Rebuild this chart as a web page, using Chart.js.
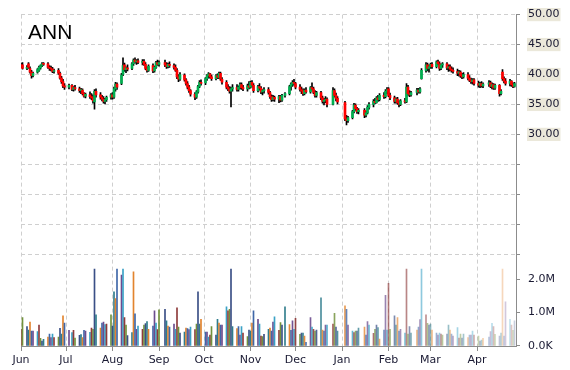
<!DOCTYPE html>
<html>
<head>
<meta charset="utf-8">
<script src="https://cdn.jsdelivr.net/npm/chart.js@4.4.1/dist/chart.umd.min.js"></script>
<style>
html,body{margin:0;padding:0;background:#fff;}
#wrap{width:570px;height:370px;}
</style>
</head>
<body>
<div id="wrap"><canvas id="c" width="570" height="370"></canvas></div>
<script>
const titleText = 'ANN';
const months = ['Jun','Jul','Aug','Sep','Oct','Nov','Dec','Jan','Feb','Mar','Apr'];
const tradingDays = [
  ['2006-06', '1 2 5 6 7 8 9 12 13 14 15 16 19 20 21 22 23 26 27 28 29 30'],
  ['2006-07', '3 5 6 7 10 11 12 13 14 17 18 19 20 21 24 25 26 27 28 31'],
  ['2006-08', '1 2 3 4 7 8 9 10 11 14 15 16 17 18 21 22 23 24 25 28 29 30 31'],
  ['2006-09', '1 5 6 7 8 11 12 13 14 15 18 19 20 21 22 25 26 27 28 29'],
  ['2006-10', '2 3 4 5 6 9 10 11 12 13 16 17 18 19 20 23 24 25 26 27 30 31'],
  ['2006-11', '1 2 3 6 7 8 9 10 13 14 15 16 17 20 21 22 24 27 28 29 30'],
  ['2006-12', '1 4 5 6 7 8 11 12 13 14 15 18 19 20 21 22 26 27 28 29'],
  ['2007-01', '3 4 5 8 9 10 11 12 16 17 18 19 22 23 24 25 26 29 30 31'],
  ['2007-02', '1 2 5 6 7 8 9 12 13 14 15 16 20 21 22 23 26 27 28'],
  ['2007-03', '1 2 5 6 7 8 9 12 13 14 15 16 19 20 21 22 23 26 27 28 29 30'],
  ['2007-04', '2 3 4 5 9 10 11 12 13 16 17 18 19 20 23 24 25 26']
];

const open = [
  41.6,41.6,41.0,41.8,41.0,40.4,39.8,40.4,40.7,41.1,41.5,41.8,41.8,41.2,41.0,40.9,40.5,40.7,40.2,39.4,38.8,38.1,
  37.9,38.2,37.5,37.8,37.6,37.3,37.4,36.8,36.4,36.6,36.3,36.1,35.4,37.2,36.6,36.2,35.9,35.5,35.8,36.2,
  36.6,36.2,37.6,38.4,38.5,40.0,41.6,40.8,41.1,41.0,41.8,42.4,42.1,42.3,42.0,42.2,41.7,41.0,40.7,41.5,40.6,41.2,42.0,
  41.7,42.0,41.6,41.3,41.7,41.5,41.2,40.7,39.6,39.2,39.9,39.1,38.5,37.9,37.3,36.7,36.2,37.1,38.0,38.7,
  38.6,39.3,39.8,40.1,39.6,39.3,39.8,39.5,40.2,39.2,38.7,37.9,37.6,37.2,37.6,37.8,37.5,37.9,38.3,37.8,37.6,38.1,
  37.9,38.7,38.2,37.3,38.0,37.7,37.1,37.3,37.5,37.0,36.3,35.8,36.2,35.9,36.3,35.7,36.5,36.8,38.0,38.4,38.7,
  38.5,37.9,37.5,37.2,36.8,37.4,37.1,37.8,37.6,37.0,36.5,37.0,36.1,35.5,35.7,35.9,35.0,37.3,36.5,36.0,
  35.3,32.6,32.3,32.8,33.8,34.9,34.3,33.8,34.0,33.2,33.6,34.5,35.0,35.5,35.3,36.1,35.8,36.5,36.3,37.2,
  37.6,36.5,36.1,35.5,35.9,35.3,35.0,35.6,35.4,37.9,36.8,36.6,37.0,37.4,37.1,39.3,40.7,41.6,41.0,
  41.3,41.7,41.3,42.1,41.8,41.0,41.6,41.8,41.1,41.3,40.9,40.7,40.5,40.2,40.4,39.8,39.6,40.0,39.4,39.0,38.8,39.1,
  38.5,38.2,38.5,38.1,38.4,38.6,38.0,38.3,37.7,38.2,36.8,40.4,39.3,38.9,38.5,38.9,38.3,38.0
];
const high = [
  41.9,42.0,41.5,42.0,41.3,40.7,40.4,41.0,41.4,41.6,42.0,42.0,42.0,41.5,41.4,41.2,40.9,41.0,40.4,39.7,39.2,38.5,
  38.4,38.3,38.0,38.2,37.9,37.7,37.6,37.0,36.9,37.1,36.8,36.6,37.5,37.6,37.0,36.5,36.3,36.0,36.4,36.8,
  37.0,37.9,38.7,38.6,40.2,42.8,41.9,41.3,41.6,42.0,42.6,42.8,42.5,42.6,42.5,42.5,42.0,41.3,41.6,41.8,41.4,42.2,42.4,
  42.3,42.4,42.0,41.9,42.1,41.8,41.6,41.0,40.0,40.3,40.1,39.3,38.8,38.2,37.5,37.0,37.3,38.2,39.0,39.1,
  39.5,40.0,40.3,40.2,39.9,40.0,40.1,40.4,40.4,39.5,39.0,38.3,38.0,37.9,38.3,38.3,38.1,38.6,38.6,38.2,38.4,38.8,
  38.9,39.0,38.5,38.2,38.5,38.0,37.5,37.8,37.8,37.2,36.6,36.5,36.4,36.5,36.5,36.7,37.0,38.2,38.6,39.0,39.2,
  38.7,38.3,37.9,37.6,37.6,37.8,38.0,38.6,37.9,37.3,37.2,37.2,36.4,36.0,36.3,36.1,37.8,37.6,36.9,36.3,
  35.5,33.2,33.0,34.0,35.2,35.1,34.5,34.3,34.3,33.9,34.8,35.3,35.8,36.0,36.3,36.5,36.8,37.0,37.5,37.8,
  37.8,36.9,36.4,36.1,36.2,35.6,35.8,36.0,38.5,38.2,37.3,37.2,37.7,37.7,37.8,41.0,42.0,41.9,41.6,
  41.9,42.0,42.3,42.4,42.1,41.8,42.0,42.0,41.6,41.6,41.3,41.1,40.9,40.7,40.6,40.2,40.3,40.3,39.8,39.4,39.3,39.3,
  38.9,38.7,38.8,38.6,39.0,38.9,38.6,38.5,38.4,38.3,37.5,40.8,39.6,39.3,39.2,39.0,38.6,38.7
];
const low = [
  41.2,40.9,40.8,41.0,40.2,39.4,39.6,40.2,40.5,40.9,41.3,41.5,41.0,40.7,40.6,40.3,40.2,40.0,39.2,38.5,37.8,37.5,
  37.6,37.3,37.2,37.4,37.0,36.8,36.6,36.2,36.1,36.0,35.8,35.2,34.2,36.2,35.9,35.6,35.2,35.1,35.5,35.9,
  35.9,36.0,37.2,37.5,38.3,39.8,40.5,40.3,40.6,40.8,41.5,41.9,41.7,41.8,41.6,41.5,40.8,40.4,40.5,40.3,40.4,41.0,41.5,
  41.4,41.3,41.0,41.1,41.2,40.9,40.5,39.3,38.8,39.0,38.9,38.2,37.6,37.0,36.4,35.8,36.0,36.9,37.8,38.2,
  38.3,39.0,39.4,39.4,39.0,39.1,39.3,39.3,39.0,38.4,37.6,37.3,36.9,34.6,37.2,37.2,37.2,37.6,37.5,37.3,37.2,37.6,
  37.7,37.9,37.0,37.1,37.4,36.8,36.6,36.9,36.7,36.0,35.5,35.6,35.5,35.3,35.4,35.5,36.2,36.6,37.4,38.0,38.2,
  37.6,37.2,36.8,36.5,36.6,36.9,36.9,37.4,36.8,36.2,36.2,35.8,35.2,34.9,35.3,34.6,34.9,36.2,35.6,35.1,
  32.3,31.6,32.0,32.6,33.6,34.0,33.5,33.4,32.8,32.9,33.4,34.2,34.6,35.1,35.2,35.5,35.6,36.0,36.1,36.8,
  36.3,35.8,35.2,35.2,35.0,34.6,34.8,35.2,35.3,36.5,36.3,36.4,36.6,36.9,36.9,39.2,40.4,40.6,40.4,
  41.0,41.0,41.1,41.6,40.7,40.8,41.2,40.8,40.5,40.6,40.4,40.2,39.8,39.7,39.5,39.3,39.4,39.1,38.8,38.5,38.4,38.2,
  37.9,37.8,37.9,37.8,38.0,37.8,37.6,37.5,37.5,36.4,36.6,39.0,38.6,38.2,38.1,38.0,37.8,37.9
];
const close = [
  41.4,41.0,41.2,41.2,40.4,39.8,40.2,40.8,41.2,41.5,41.8,41.7,41.2,41.0,40.9,40.5,40.6,40.2,39.4,38.8,38.1,37.9,
  38.2,37.5,37.8,37.6,37.3,37.4,36.8,36.4,36.7,36.3,36.1,35.6,37.2,36.6,36.2,35.9,35.5,35.8,36.2,36.6,
  36.2,37.6,38.4,37.9,39.9,41.5,40.8,41.1,40.9,41.8,42.4,42.1,42.3,42.0,42.2,41.7,41.0,40.7,41.4,40.6,41.2,42.0,41.7,
  42.0,41.6,41.3,41.7,41.5,41.2,40.7,39.6,39.2,40.0,39.1,38.5,37.9,37.3,36.7,36.2,37.1,38.0,38.7,38.5,
  39.3,39.8,40.1,39.6,39.3,39.8,39.5,40.2,39.2,38.7,37.9,37.6,37.2,37.6,37.8,37.5,37.9,38.3,37.8,37.6,38.1,37.9,
  38.7,38.2,37.3,38.0,37.7,37.1,37.3,37.5,37.0,36.3,35.8,36.2,35.9,36.3,35.7,36.5,36.8,38.0,38.4,38.7,38.5,
  37.9,37.5,37.2,36.8,37.4,37.1,37.8,37.6,37.0,36.5,37.0,36.1,35.5,35.7,35.9,35.0,37.3,36.5,36.0,35.4,
  32.6,32.3,32.8,33.8,34.9,34.3,33.8,34.0,33.2,33.6,34.5,35.0,35.5,35.3,36.1,35.8,36.5,36.3,37.2,37.5,
  36.5,36.1,35.5,35.9,35.3,35.0,35.6,35.4,37.9,36.8,36.6,37.0,37.4,37.1,37.6,40.7,41.6,41.0,41.3,
  41.7,41.3,42.1,41.8,41.0,41.6,41.8,41.1,41.3,40.9,40.7,40.5,40.2,40.4,39.8,39.6,40.0,39.4,39.0,38.8,39.1,38.5,
  38.2,38.5,38.1,38.4,38.6,38.0,38.3,37.7,38.2,36.8,37.2,39.3,38.9,38.5,38.9,38.3,38.0,38.5
];
// volume in millions of shares
const volume = [
  0.5,0.85,0.58,0.48,0.72,0.45,0.45,0.43,0.63,0.23,0.15,0.2,0.27,0.36,0.25,0.36,0.25,0.27,0.53,0.36,0.9,0.69,
  0.47,0.4,0.47,0.24,0.32,0.34,0.25,0.47,0.45,0.41,0.54,0.5,2.3,0.93,0.54,0.69,0.72,0.64,0.66,0.93,
  0.6,1.62,1.42,2.3,2.12,2.3,0.85,0.63,0.31,0.4,2.22,0.96,0.5,0.6,0.5,0.63,0.67,0.73,0.5,0.6,1.05,0.69,0.49,
  1.08,1.1,0.75,0.6,0.57,0.66,0.5,1.14,0.57,0.39,0.42,0.54,0.52,0.49,0.57,0.49,0.66,1.62,0.66,0.8,
  0.42,0.42,0.27,0.33,0.58,0.33,0.8,0.69,0.63,0.63,1.17,1.05,1.1,2.3,0.58,0.52,0.58,0.33,0.58,0.39,0.28,0.48,
  0.45,0.69,1.05,0.8,0.66,0.3,0.28,0.35,0.5,0.54,0.45,0.72,0.87,0.47,0.7,0.63,1.17,0.64,0.47,0.75,0.5,
  0.83,0.35,0.39,0.39,0.3,0.11,0.85,0.57,0.5,0.45,0.48,1.44,0.48,0.45,0.63,0.63,0.66,0.98,0.57,0.45,
  1.2,1.1,0.63,0.45,0.4,0.45,0.45,0.54,0.57,0.33,0.73,0.63,0.38,0.5,0.63,0.55,0.21,0.48,1.52,0.48,
  1.88,0.5,0.9,0.63,0.85,0.45,0.5,0.39,2.3,0.36,0.58,0.39,0.48,0.57,0.79,2.3,0.93,0.68,0.63,
  0.66,0.48,0.39,0.33,0.39,0.36,0.33,0.36,0.63,0.48,0.36,0.3,0.55,0.24,0.36,0.24,0.36,0.25,0.33,0.33,0.45,0.33,
  0.3,0.15,0.18,0.23,0.27,0.43,0.68,0.58,0.35,0.3,0.39,2.3,0.3,1.32,0.8,0.63,0.47,0.75
];
const priceTicks = [10, 15, 20, 25, 30, 35, 40, 45, 50];
const priceTicksLabelled = 30;
const volTicks = [0, 1, 2];

// ---- calendar positions (days since 1 Jun 2006) ----
const startUTC = Date.UTC(2006, 5, 1);
function dayOff(y, m, d) { return Math.round((Date.UTC(y, m - 1, d) - startUTC) / 864e5); }
const xs = [];
const monthStarts = [];
tradingDays.forEach(([ym, s]) => {
  const [y, m] = ym.split('-').map(Number);
  monthStarts.push(dayOff(y, m, 1));
  s.split(' ').forEach(d => xs.push(dayOff(y, m, +d)));
});

const palette = [[142,59,59],[114,145,60],[58,79,134],[47,124,140],[226,132,46],[63,103,168],[108,76,142],[58,161,198]];
const N = xs.length;
const volColors = xs.map((_, i) => {
  const c = palette[i % palette.length];
  const fadeStart = 120;
  const a = i < fadeStart ? 1 : 1 - 0.72 * (i - fadeStart) / (N - 1 - fadeStart);
  return `rgba(${c[0]},${c[1]},${c[2]},${a.toFixed(3)})`;
});
const bodyColors = xs.map((_, i) => close[i] >= open[i] ? '#00b050' : '#ff0000');

const txtColor = '#1a1a33';
const gridColor = '#cfcfcf';
const axisColor = '#8c8c8c';
Chart.defaults.font.family = '"DejaVu Sans", Verdana, sans-serif';
Chart.defaults.font.size = 11;

const titlePlugin = {
  id: 'annTitle',
  afterDraw(chart) {
    const c = chart.ctx;
    c.save();
    c.font = '21px "Liberation Sans", Arial, sans-serif';
    c.fillStyle = '#000';
    c.textBaseline = 'alphabetic';
    c.fillText(titleText, 28, 39);
    c.restore();
  }
};

new Chart(document.getElementById('c'), {
  type: 'bar',
  data: {
    datasets: [
      { label: 'body', data: xs.map((v, i) => ({ x: v, y: [open[i], close[i]] })),
        backgroundColor: bodyColors, barThickness: 2, minBarLength: 1, grouped: false, yAxisID: 'y' },
      { label: 'wick', data: xs.map((v, i) => ({ x: v, y: [low[i], high[i]] })),
        backgroundColor: '#000', barThickness: 1, grouped: false, yAxisID: 'y' },
      { label: 'volume', data: xs.map((v, i) => ({ x: v, y: volume[i] })),
        backgroundColor: volColors, barThickness: 1, grouped: false, yAxisID: 'yv' }
    ]
  },
  options: {
    responsive: false,
    animation: false,
    events: [],
    layout: { padding: { left: 21, top: 14, right: 0, bottom: 0 } },
    plugins: { legend: { display: false }, tooltip: { enabled: false } },
    scales: {
      x: {
        type: 'linear', min: 0, max: 330, offset: false,
        afterBuildTicks: s => { s.ticks = monthStarts.map(v => ({ value: v })); },
        afterFit: s => { s.height = 24; },
        ticks: { callback: (v, i) => months[i], color: txtColor, padding: 3, maxRotation: 0, autoSkip: false },
        grid: { color: gridColor, offset: false, drawTicks: true, tickLength: 5, tickColor: axisColor, tickBorderDash: [] },
        border: { color: axisColor, dash: [4, 3] }
      },
      y: {
        type: 'linear', position: 'right', stack: 'right', stackWeight: 240,
        min: 10, max: 50,
        afterBuildTicks: s => { s.ticks = priceTicks.map(v => ({ value: v })); },
        afterFit: s => { s.width = 54; },
        ticks: {
          autoSkip: false, color: txtColor, padding: 8,
          callback: v => v >= priceTicksLabelled ? v.toFixed(2) : '',
          showLabelBackdrop: ctx => !!(ctx.tick && ctx.tick.value >= priceTicksLabelled),
          backdropColor: '#ebe8da', backdropPadding: { x: 1, y: 0 }
        },
        grid: { color: gridColor, tickLength: 4, tickColor: axisColor, tickBorderDash: [] },
        border: { color: axisColor, dash: [4, 3] }
      },
      yv: {
        type: 'linear', position: 'right', stack: 'right', stackWeight: 92,
        min: 0, max: 2.75,
        afterBuildTicks: s => { s.ticks = volTicks.map(v => ({ value: v })); },
        afterFit: s => { s.width = 54; },
        ticks: { autoSkip: false, color: txtColor, padding: 8, callback: v => v === 0 ? '0.0K' : v.toFixed(1) + 'M' },
        grid: { drawOnChartArea: false, tickLength: 4, tickColor: axisColor },
        border: { color: axisColor }
      }
    }
  },
  plugins: [titlePlugin]
});
</script>
</body>
</html>
